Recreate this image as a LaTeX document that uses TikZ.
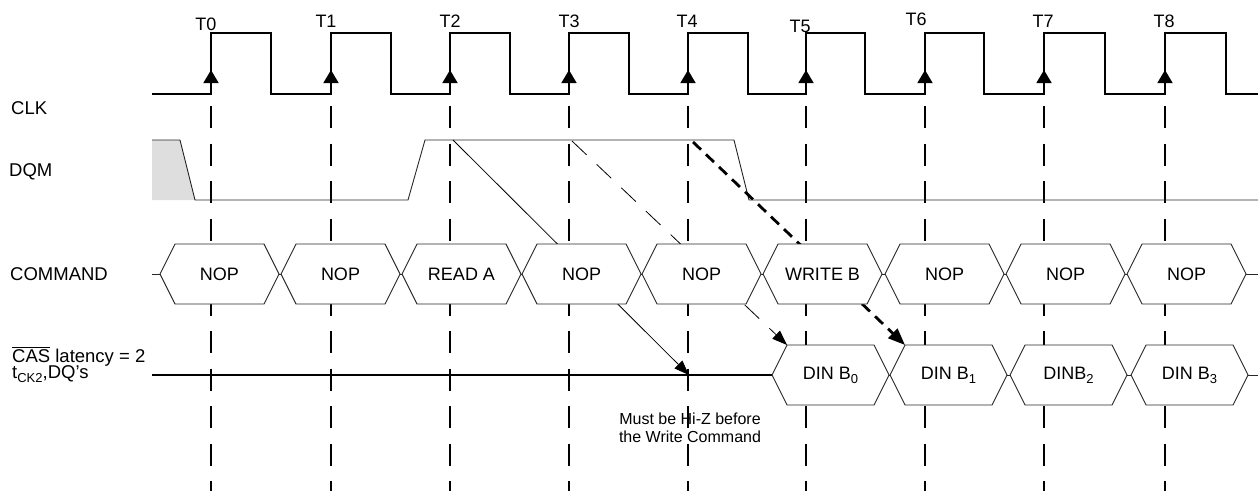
\documentclass[tikz,border=0pt]{standalone}
\usepackage{fontspec}
\setmainfont{Liberation Sans}
\usepackage{tikz}
\usetikzlibrary{arrows.meta,positioning}
\definecolor{dqmgray}{RGB}{222,222,222}
\definecolor{busline}{RGB}{40,40,40}
\tikzstyle{wave}=[line width=1.6pt,line join=miter]
\tikzstyle{thinwave}=[line width=0.9pt,color=busline]
\tikzstyle{guide}=[line width=1.6pt,dash pattern=on 22pt off 15.5pt]
\tikzstyle{lbl}=[anchor=base west,inner sep=0pt,font=\fontsize{18.5}{18}\selectfont]
\tikzstyle{tlabel}=[anchor=base,inner sep=0pt,font=\fontsize{18}{18}\selectfont]
\tikzstyle{hexbox}=[line width=0.9pt,draw=busline,fill=white]
\tikzstyle{hextext}=[inner sep=0pt,font=\fontsize{18}{18}\selectfont]
\tikzstyle{notetext}=[anchor=north,inner sep=0pt,align=center,
  font=\fontsize{16}{18}\selectfont]
\tikzstyle{edgemark}=[-{Triangle[length=13pt,width=15pt]},line width=1.6pt]
\tikzstyle{arrow}=[-{Triangle[length=15pt,width=11pt]},line width=0.8pt]
\tikzstyle{arrowD}=[arrow,dash pattern=on 20pt off 14pt]
\tikzstyle{arrowB}=[-{Triangle[length=17pt,width=13pt]},line width=2.8pt,
  dash pattern=on 11pt off 7pt]

% subscript as printed in the figure
\newcommand{\lowidx}[1]{\raisebox{-4pt}{\fontsize{13}{13}\selectfont #1}}

% bus segment: name, left x, mid y, width, text
\newcommand{\busseg}[5]{%
  \draw[hexbox] (#2,#3) -- ++(15,-30) -- ++(#4-30,0) -- ++(15,30)
    -- ++(-15,30) -- ++(30-#4,0) -- cycle;
  \coordinate (#1-nw) at (#2+15,#3-30);
  \node[hextext] (#1) at (#2+#4/2,#3) {#5};}

\begin{document}
\begin{tikzpicture}[x=1pt,y=-1pt]
  \useasboundingbox (0,0) rectangle (1258,491);

  % Row names
  \node[lbl] (clk) at (11,114) {CLK};
  \node[lbl] (dqm) at (9,176) {DQM};
  \node[lbl] (cmd) at (10,280) {COMMAND};
  \node[lbl] (cas) at (12,362) {$\overline{\hbox{CAS}}$ latency = 2};
  \node[lbl] (tck) at (12,378) {t\lowidx{CK2},DQ’s};

  % Clock edges
  \foreach \x/\lx/\ly [count=\i from 0] in {211/206/30,331/326/27,450/450/27,
      569/569/27,688/687/27,806/800/32,925/916/25,1044/1043/27,1165/1164/27} {
    \node[tlabel] (t\i) at (\lx,\ly) {T\i};
    \draw[guide] (\x,106) -- (\x,491);
    \draw[edgemark] (\x,94) -- (\x,70);
  }
  \draw[wave] (152,94) foreach \r/\f in {211/271,331/391,450/510,569/629,
      688/748,806/865,925/984,1044/1105,1165/1226}
    { -- (\r,94) -- (\r,33) -- (\f,33) -- (\f,94) } -- (1258,94);

  % DQM
  \fill[dqmgray] (152,140) -- (180,140) -- (195,200) -- (152,200) -- cycle;
  \draw[thinwave] (152,140) -- (180,140) -- (195,200) -- (408,200)
    -- (425,140) -- (734,140) -- (749,200) -- (1258,200);

  % Data bus
  \draw[wave] (152,375) -- (772,375);
  \draw[thinwave] (772,375) -- (1258,375);
  \busseg{din0}{772}{375}{117}{DIN B\lowidx{0}}
  \busseg{din1}{890}{375}{117}{DIN B\lowidx{1}}
  \busseg{din2}{1010}{375}{117}{DINB\lowidx{2}}
  \busseg{din3}{1131}{375}{117}{DIN B\lowidx{3}}

  % Arrows from DQM
  \coordinate (dqmA) at (453,140);
  \coordinate (dqmB) at (572,141);
  \coordinate (dqmC) at (693,142);
  \coordinate (hiz) at (689,375);
  \draw[arrow] (dqmA) -- (hiz);
  \draw[arrowD] (dqmB) -- (din0-nw);
  \draw[arrowB] (dqmC) -- (din1-nw);

  % Command bus
  \draw[thinwave] (152,274) -- (1258,274);
  \foreach \n/\lx/\txt in {c0/160/NOP,c1/281/NOP,c2/402/READ A,c3/522/NOP,
      c4/642/NOP,c5/763/WRITE B,c6/885/NOP,c7/1006/NOP,c8/1127/NOP}
    {\busseg{\n}{\lx}{274}{119}{\txt}}

  \node[notetext] (note) at (690,413) {Must be Hi-Z before\\the Write Command};

\end{tikzpicture}
\end{document}
